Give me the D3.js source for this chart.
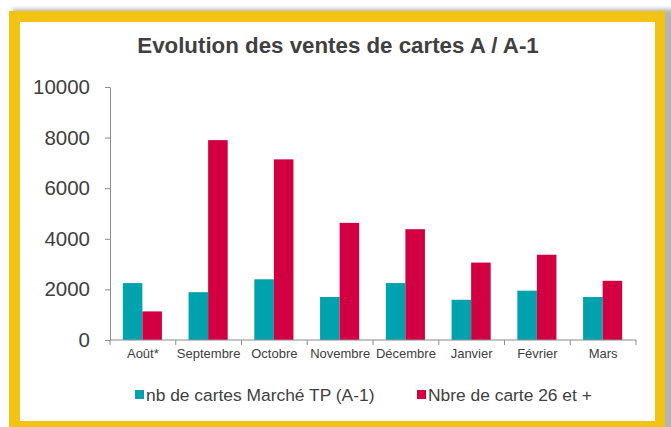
<!DOCTYPE html>
<html>
<head>
<meta charset="utf-8">
<script src="https://cdn.jsdelivr.net/npm/d3@7"></script>
<style>
  body { margin: 0; background: #fff; }
  svg text { font-family: "Liberation Sans", Arial, sans-serif; }
  .axis path, .axis line { stroke: #8c8c8c; }
</style>
</head>
<body>
<div id="chart"></div>
<script>
var months = ["Août*", "Septembre", "Octobre", "Novembre", "Décembre", "Janvier", "Février", "Mars"];
var seriesNames = ["nb de cartes Marché TP (A-1)", "Nbre de carte 26 et +"];
var marcheTP = [2250, 1890, 2400, 1700, 2250, 1590, 1950, 1700];
var carte26 = [1130, 7900, 7140, 4630, 4380, 3060, 3370, 2340];
var yTicks = [0, 2000, 4000, 6000, 8000, 10000];

var colors = ["#00a3ad", "#d20043"];

var W = 671, H = 427;
var margin = {top: 87, left: 110, right: 35, bottom: 87};
var width = 636 - margin.left,
    height = 340 - margin.top;

var svg = d3.select("#chart").append("svg")
    .attr("width", W)
    .attr("height", H);

// frame with a soft shadow
var defs = svg.append("defs");
var f = defs.append("filter").attr("id", "shadow")
    .attr("x", "-5%").attr("y", "-5%").attr("width", "110%").attr("height", "110%");
f.append("feGaussianBlur").attr("stdDeviation", 2);

svg.append("rect")
    .attr("x", 12).attr("y", 9).attr("width", 670).attr("height", 430)
    .attr("fill", "#b5b5b5")
    .attr("filter", "url(#shadow)");
svg.append("rect")
    .attr("x", 9).attr("y", 11).attr("width", 656).attr("height", 430)
    .attr("fill", "#f2c314");
svg.append("rect")
    .attr("x", 20).attr("y", 22).attr("width", 635).attr("height", 399)
    .attr("fill", "#fff");

svg.append("text")
    .attr("x", 338).attr("y", 53)
    .attr("text-anchor", "middle")
    .style("font-size", "22.3px")
    .style("font-weight", "bold")
    .attr("fill", "#404040")
    .text("Evolution des ventes de cartes A / A-1");

var g = svg.append("g")
    .attr("transform", "translate(" + margin.left + "," + margin.top + ")");

var x0 = d3.scaleBand().domain(months).range([0, width]).padding(0);
var x1 = d3.scaleBand().domain([0, 1])
    .range([x0.bandwidth() * 0.195, x0.bandwidth() * 0.79]);
var y = d3.scaleLinear().domain([0, 10000]).range([height, 0]);

var rows = months.map(function(m, i) {
  return {month: m, values: [marcheTP[i], carte26[i]]};
});

var groups = g.selectAll(".grp")
    .data(rows)
    .enter().append("g")
    .attr("class", "grp")
    .attr("transform", function(d) { return "translate(" + x0(d.month) + ",0)"; });

groups.selectAll("rect")
    .data(function(d) { return d.values.map(function(v, k) { return {k: k, v: v}; }); })
    .enter().append("rect")
    .attr("x", function(d) { return x1(d.k); })
    .attr("width", x1.bandwidth())
    .attr("y", function(d) { return y(d.v); })
    .attr("height", function(d) { return height - y(d.v); })
    .attr("fill", function(d) { return colors[d.k]; });

// y axis
var yAxis = g.append("g")
    .attr("class", "axis")
    .call(d3.axisLeft(y).tickValues(yTicks).tickFormat(d3.format("d"))
      .tickSizeInner(5).tickSizeOuter(0).tickPadding(15));
yAxis.selectAll("text")
    .style("font-size", "20.5px")
    .attr("fill", "#404040");

// x axis, ticks on category boundaries
var xAxis = g.append("g")
    .attr("class", "axis")
    .attr("transform", "translate(0," + height + ")");
xAxis.append("line")
    .attr("x1", 0).attr("x2", width)
    .attr("stroke", "#8c8c8c");
xAxis.selectAll(".tk")
    .data(months.concat(["end"]))
    .enter().append("line")
    .attr("x1", function(d, i) { return i * x0.step(); })
    .attr("x2", function(d, i) { return i * x0.step(); })
    .attr("y1", 0).attr("y2", 5)
    .attr("stroke", "#8c8c8c");
xAxis.selectAll(".lbl")
    .data(months)
    .enter().append("text")
    .attr("x", function(d) { return x0(d) + x0.bandwidth() / 2; })
    .attr("y", 18)
    .attr("text-anchor", "middle")
    .style("font-size", "13px")
    .attr("fill", "#404040")
    .text(function(d) { return d; });

// legend
var legendX = [135, 417];
var legend = svg.selectAll(".legend")
    .data(seriesNames)
    .enter().append("g")
    .attr("class", "legend")
    .attr("transform", function(d, i) { return "translate(" + legendX[i] + ",390)"; });
legend.append("rect")
    .attr("width", 9).attr("height", 9)
    .attr("fill", function(d, i) { return colors[i]; });
legend.append("text")
    .attr("x", 11).attr("y", 10.5)
    .style("font-size", "17.4px")
    .attr("fill", "#404040")
    .text(function(d) { return d; });
</script>
</body>
</html>
